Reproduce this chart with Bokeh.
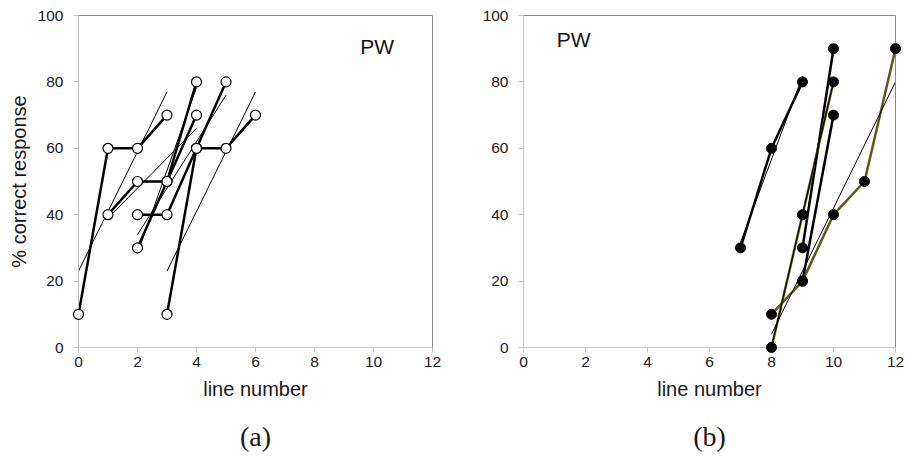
import numpy as np
from bokeh.plotting import figure
from bokeh.layouts import row
from bokeh.models import Range1d, FixedTicker, Label, LinearAxis
from bokeh.embed import file_html
from bokeh.resources import INLINE

# ---------------- data ----------------
# panel (a): open circles
a_series = [
    ([0, 1, 2, 3], [10, 60, 60, 70]),
    ([1, 2, 3, 4], [40, 50, 50, 70]),
    ([2, 3, 4, 5], [40, 40, 60, 80]),
    ([3, 4, 5, 6], [10, 60, 60, 70]),
    ([2, 3, 4], [30, 50, 80]),
]
# panel (b): filled circles; black and olive series
b_black = [
    ([7, 8, 9], [30, 60, 80]),
    ([9, 10], [30, 90]),
    ([9, 10], [20, 70]),
]
b_olive = [
    ([8, 9, 10], [0, 40, 80]),
    ([8, 9, 10, 11, 12], [10, 20, 40, 50, 90]),
]
x_ticks = [0, 2, 4, 6, 8, 10, 12]
y_ticks = [0, 20, 40, 60, 80, 100]
x_lim = (0, 12)
y_lim = (0, 100)
panel_tags = ["(a)", "(b)"]
subject = "PW"

SANS = "Liberation Sans"
SERIF = "Liberation Serif"
OLIVE = "#5a5916"
AXIS_GRAY = "#c4c4c4"
BORDER_GRAY = "#8a8a8a"
TEXT = "#1a1a1a"

FIG_H = 456
TOP, FRAME_H = 9, 344
PAD_Y_PX = 6


def line_axis(loc, bounds, color, ticks):
    ax = LinearAxis(fixed_location=loc, bounds=bounds, ticker=FixedTicker(ticks=ticks),
                    axis_line_color=color, major_tick_line_color=color,
                    major_tick_in=0, major_tick_out=5,
                    minor_tick_line_color=None, major_label_text_color=None)
    return ax


def make_fig(width, left, right, pad_x_px, ylabel, tag):
    frame_w = width - left - right
    px = (x_lim[1] - x_lim[0]) * pad_x_px / (frame_w - 2 * pad_x_px)
    py = (y_lim[1] - y_lim[0]) * PAD_Y_PX / (FRAME_H - 2 * PAD_Y_PX)
    p = figure(width=width, height=FIG_H, output_backend="svg", toolbar_location=None,
               x_range=Range1d(x_lim[0] - px, x_lim[1] + px),
               y_range=Range1d(y_lim[0] - py, y_lim[1] + py),
               min_border_left=left, min_border_right=right,
               min_border_top=TOP, min_border_bottom=FIG_H - TOP - FRAME_H)
    p.grid.visible = False
    p.outline_line_color = None
    p.background_fill_color = "white"
    p.border_fill_color = "white"

    # label-only axes at the frame sides
    xa, ya = p.xaxis[0], p.yaxis[0]
    xa.ticker = FixedTicker(ticks=x_ticks)
    ya.ticker = FixedTicker(ticks=y_ticks)
    for ax in (xa, ya):
        ax.axis_line_color = None
        ax.major_tick_line_color = None
        ax.minor_tick_line_color = None
        ax.major_tick_in = 0
        ax.major_tick_out = 0
        ax.major_label_text_font = SANS
        ax.major_label_text_font_size = "15.5px"
        ax.major_label_text_color = TEXT
        ax.axis_label_text_font = SANS
        ax.axis_label_text_font_style = "normal"
        ax.axis_label_text_font_size = "20px"
        ax.axis_label_text_color = TEXT
    xa.axis_label = "line number"
    xa.major_label_standoff = 3
    xa.axis_label_standoff = 8
    ya.major_label_standoff = 9
    if ylabel:
        ya.axis_label = ylabel
        ya.axis_label_standoff = 5

    # axis lines with outward ticks at the data origin
    p.add_layout(line_axis(y_lim[0], x_lim, AXIS_GRAY, x_ticks), "below")
    p.add_layout(line_axis(x_lim[0], y_lim, AXIS_GRAY, y_ticks), "left")
    # gray frame on top and right
    p.add_layout(line_axis(y_lim[1], x_lim, BORDER_GRAY, []), "above")
    p.add_layout(line_axis(x_lim[1], y_lim, BORDER_GRAY, []), "right")

    # panel tag "(a)" / "(b)" as the label of an empty axis below
    tag_axis = LinearAxis(ticker=FixedTicker(ticks=[]), axis_line_color=None,
                          major_tick_line_color=None, minor_tick_line_color=None,
                          major_label_text_color=None, major_tick_out=0, major_tick_in=0,
                          major_label_standoff=0)
    tag_axis.axis_label = tag
    tag_axis.axis_label_text_font = SERIF
    tag_axis.axis_label_text_font_size = "28px"
    tag_axis.axis_label_text_font_style = "normal"
    tag_axis.axis_label_text_color = TEXT
    tag_axis.axis_label_standoff = 18
    p.add_layout(tag_axis, "below")
    return p


def trend(xs, ys):
    k, b = np.polyfit(xs, ys, 1)
    x0, x1 = min(xs), max(xs)
    return [x0, x1], [k * x0 + b, k * x1 + b]


# ---------------- panel (a) ----------------
pa = make_fig(453, 72, 15, 6, "% correct response", panel_tags[0])
for xs, ys in a_series:
    pa.line(xs, ys, line_color="black", line_width=2.5)
for xs, ys in a_series:
    tx, ty = trend(xs, ys)
    pa.line(tx, ty, line_color="black", line_width=1)
for xs, ys in a_series:
    pa.scatter(xs, ys, size=10, marker="circle", fill_color="white",
               line_color="black", line_width=1.2, level="overlay")
pa.add_layout(Label(x=9.55, y=90.8, text=subject, text_font=SANS,
                    text_baseline="alphabetic",
                    text_font_size="21px", text_color="#111111"))

# ---------------- panel (b) ----------------
pb = make_fig(452, 64, 4, 6, None, panel_tags[1])
for xs, ys in b_black:
    pb.line(xs, ys, line_color="black", line_width=2.5)
for xs, ys in b_olive:
    pb.line(xs, ys, line_color=OLIVE, line_width=2.5)
for xs, ys in b_black + b_olive:
    tx, ty = trend(xs, ys)
    pb.line(tx, ty, line_color="black", line_width=1)
for xs, ys in b_black + b_olive:
    pb.scatter(xs, ys, size=10, marker="circle", fill_color="black",
               line_color="black", line_width=1, level="overlay")
pb.add_layout(Label(x=1.07, y=92.8, text=subject, text_font=SANS,
                    text_baseline="alphabetic",
                    text_font_size="21px", text_color="#111111"))

layout = row(pa, pb, spacing=0)
open("out.html", "w").write(file_html(layout, INLINE))
